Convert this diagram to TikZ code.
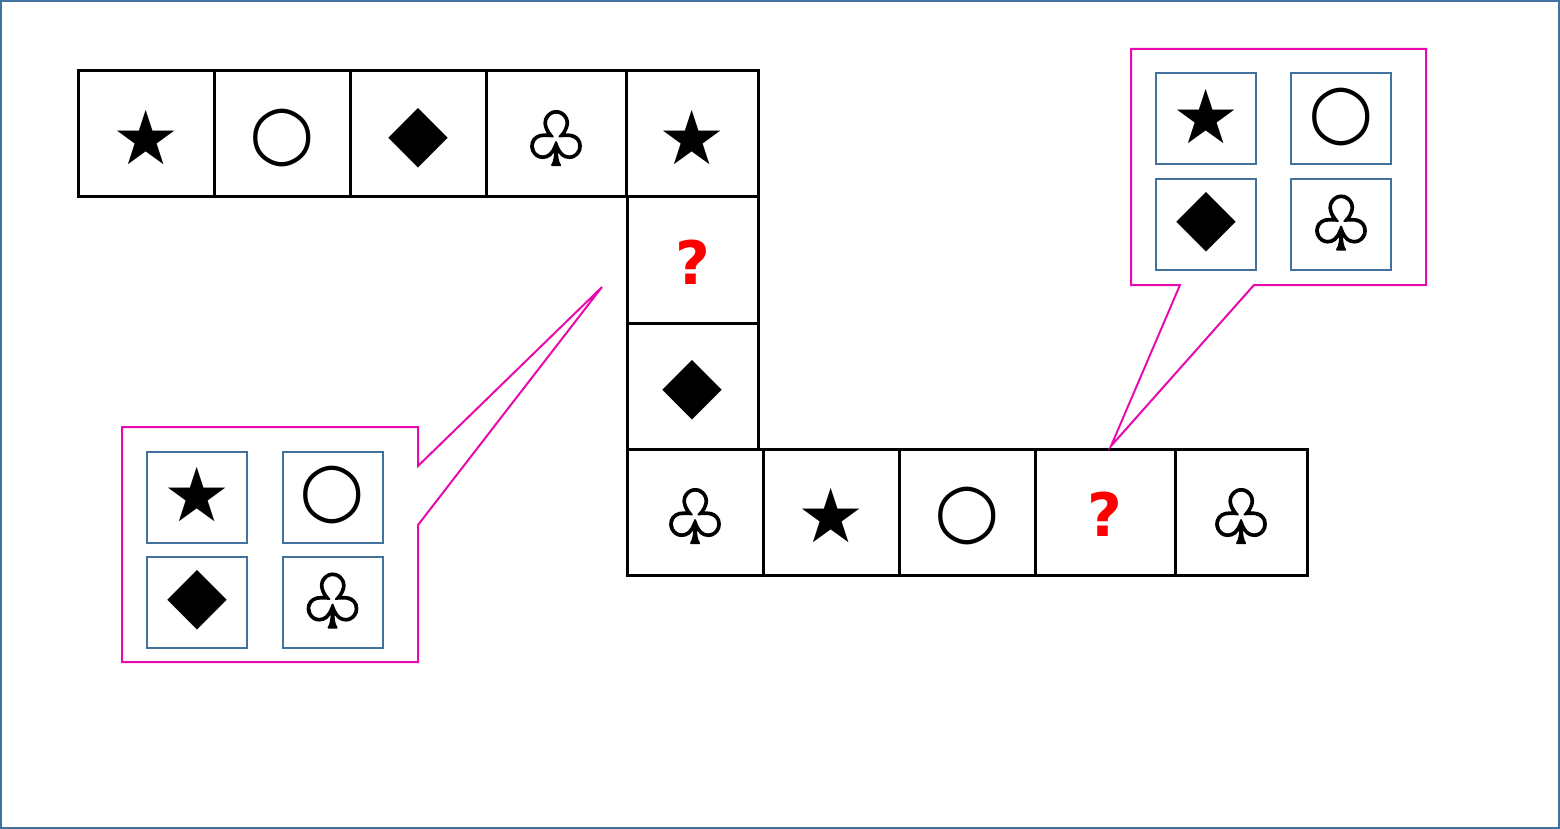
\documentclass[tikz,border=0pt]{standalone}
\usepackage{fontspec}
\newfontfamily\symfont{DejaVu Sans}
\newfontfamily\clubfont[FakeBold=2.5]{DejaVu Sans}
\definecolor{framecol}{RGB}{65,113,156}
\definecolor{callcol}{RGB}{232,10,175}
\definecolor{qred}{RGB}{255,0,0}
\newcommand{\sStar}{{\symfont\fontsize{75}{75}\selectfont ★}}
\newcommand{\sCirc}{{\symfont\fontsize{75}{75}\selectfont ○}}
\newcommand{\sDiam}{{\symfont\fontsize{78}{78}\selectfont ◆}}
\newcommand{\sClub}{{\clubfont\fontsize{74}{74}\selectfont ♧}}
\newcommand{\sQuest}{{\symfont\bfseries\fontsize{60}{60}\selectfont\color{qred}?}}
\tikzset{
  cell/.style={draw=black, line width=3pt, minimum height=126pt, inner sep=0pt, outer sep=0pt},
  optbox/.style={draw=framecol, line width=2pt, minimum width=100pt, minimum height=91pt, inner sep=0pt},
  symlab/.style={inner sep=0pt, yshift=-4pt},
  qlab/.style={inner sep=0pt, yshift=-2pt},
  optlab/.style={inner sep=0pt, yshift=2pt},
  callout/.style={draw=callcol, line width=2pt, line join=miter},
}
\begin{document}
\begin{tikzpicture}[x=1pt, y=-1pt]
\useasboundingbox (0,0) rectangle (1560,829);
\draw[framecol, line width=2pt] (1,1) rectangle (1559,828);
% top row
\node[cell, minimum width=136pt, label={[symlab]center:\sStar}] (t1) at (146,134) {};
\node[cell, minimum width=136pt, label={[symlab]center:\sCirc}] (t2) at (282,134) {};
\node[cell, minimum width=136pt, label={[symlab]center:\sDiam}] (t3) at (418,134) {};
\node[cell, minimum width=140pt, label={[symlab]center:\sClub}] (t4) at (556,134) {};
\node[cell, minimum width=132pt, label={[symlab]center:\sStar}] (t5) at (692,134) {};
% column
\node[cell, minimum width=131pt, label={[qlab]center:\sQuest}] (c1) at (692.5,260) {};
\node[cell, minimum width=131pt, label={[symlab]center:\sDiam}] (c2) at (692.5,386) {};
% bottom row
\node[cell, minimum width=136pt, label={[symlab]center:\sClub}] (b1) at (695,512) {};
\node[cell, minimum width=136pt, label={[symlab]center:\sStar}] (b2) at (831,512) {};
\node[cell, minimum width=136pt, label={[symlab]center:\sCirc}] (b3) at (967,512) {};
\node[cell, minimum width=140pt, label={[qlab]center:\sQuest}] (b4) at (1105,512) {};
\node[cell, minimum width=132pt, label={[symlab]center:\sClub}] (b5) at (1241,512) {};
% left callout
\coordinate (ltip) at (602,287);
\draw[callout] (122,427) -- (418,427) -- (418,466) -- (ltip) -- (418,525) -- (418,662) -- (122,662) -- cycle;
\node[optbox, label={[optlab]center:\sStar}] (l1) at (197,497) {};
\node[optbox, label={[optlab]center:\sCirc}] (l2) at (332.5,497) {};
\node[optbox, label={[optlab]center:\sDiam}] (l3) at (197,602.5) {};
\node[optbox, label={[optlab]center:\sClub}] (l4) at (332.5,602.5) {};
% right callout
\coordinate (rtip) at (1111,446);
\draw[callout] (1131,49) -- (1426,49) -- (1426,285) -- (1254,285) -- (rtip) -- (1180,285) -- (1131,285) -- cycle;
\node[optbox, label={[optlab]center:\sStar}] (r1) at (1206,119) {};
\node[optbox, label={[optlab]center:\sCirc}] (r2) at (1341,119) {};
\node[optbox, label={[optlab]center:\sDiam}] (r3) at (1206,224.5) {};
\node[optbox, label={[optlab]center:\sClub}] (r4) at (1341,224.5) {};
\end{tikzpicture}
\end{document}
